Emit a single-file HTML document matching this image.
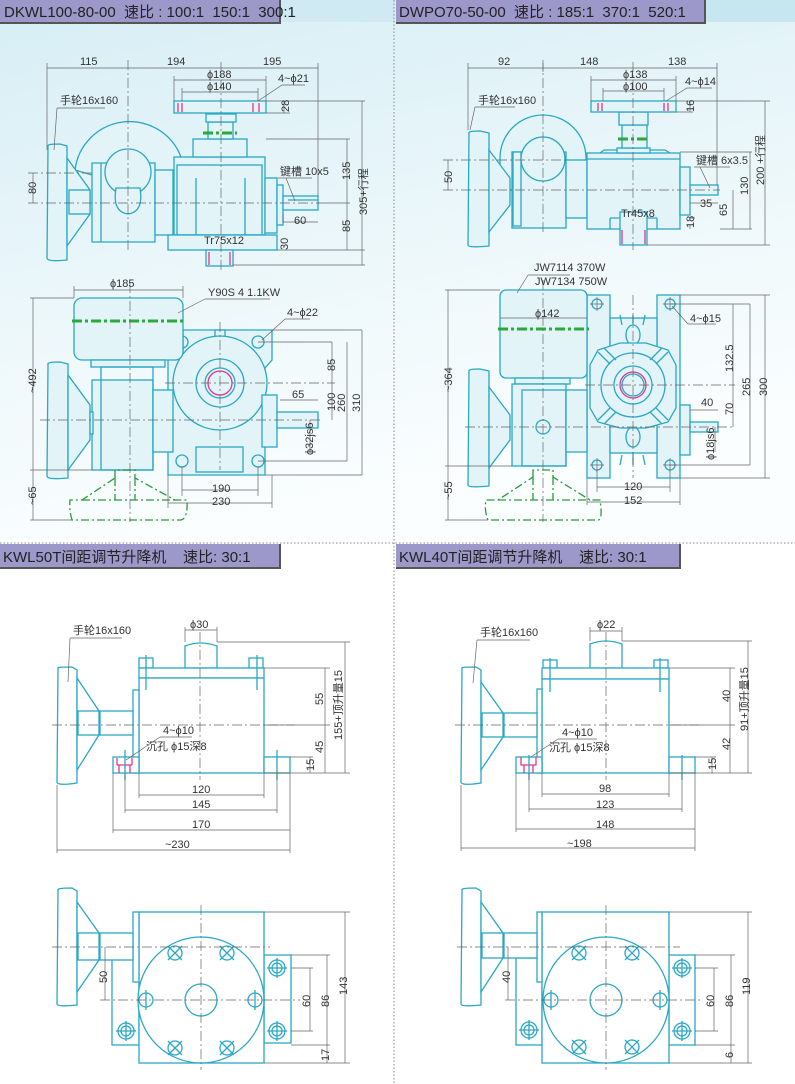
<!DOCTYPE html>
<html><head><meta charset="utf-8"><style>
html,body{margin:0;padding:0;background:#fff}
svg{display:block}
text{font-family:"Liberation Sans Narrow","Liberation Sans","Noto Sans CJK SC",sans-serif;fill:#333;font-size:11px}
.h{font-family:"Liberation Sans","Noto Sans CJK SC",sans-serif;font-size:15px;fill:#222;white-space:pre}
.c{fill:none;stroke:#2aa8c4;stroke-width:1.3}
.f{fill:#e3f4f8;stroke:#2aa8c4;stroke-width:1.3}
.w{fill:#fff;stroke:#2aa8c4;stroke-width:1.3}
.d{fill:none;stroke:#666;stroke-width:.7}
.cl{fill:none;stroke:#666;stroke-width:.7;stroke-dasharray:10 3 2 3}
.g{fill:none;stroke:#2a9a3a;stroke-width:1.3;stroke-dasharray:8 3 2 3}
.gt{fill:none;stroke:#2aaa3a;stroke-width:3;stroke-dasharray:10 3 3 3}
.p{fill:none;stroke:#e0358f;stroke-width:1.3}
</style></head><body>
<svg width="795" height="1084" viewBox="0 0 795 1084" xmlns="http://www.w3.org/2000/svg" xml:space="preserve">
<defs>
<linearGradient id="bg" x1="0" y1="0" x2="0.3" y2="1">
<stop offset="0" stop-color="#d6eef5"/><stop offset="0.6" stop-color="#eef8fb"/><stop offset="1" stop-color="#fbfeff"/>
</linearGradient>
</defs>
<rect x="0" y="0" width="795" height="540" fill="url(#bg)"/>
<rect x="280" y="0" width="115" height="22" fill="#cfeaf2"/>
<rect x="704" y="0" width="91" height="22" fill="#c6e6f0"/>
<line x1="394" y1="0" x2="394" y2="1084" stroke="#888" stroke-width="1" stroke-dasharray="1.5 2"/>
<line x1="0" y1="543" x2="795" y2="543" stroke="#888" stroke-width="1" stroke-dasharray="1.5 2"/>
<rect x="0" y="0" width="281" height="24" fill="#555"/>
<rect x="0" y="0" width="279" height="22" fill="#9d98ca"/>
<text x="4" y="17" class="h">DKWL100-80-00  速比 : 100:1  150:1  300:1</text>
<rect x="396" y="0" width="310" height="24" fill="#555"/>
<rect x="396" y="0" width="308" height="22" fill="#9d98ca"/>
<text x="399" y="17" class="h">DWPO70-50-00  速比 : 185:1  370:1  520:1</text>
<rect x="0" y="544" width="281" height="25" fill="#555"/>
<rect x="0" y="544" width="279" height="23" fill="#9d98ca"/>
<text x="3" y="562" class="h">KWL50T间距调节升降机    速比: 30:1</text>
<rect x="396" y="544" width="285" height="25" fill="#555"/>
<rect x="396" y="544" width="283" height="23" fill="#9d98ca"/>
<text x="399" y="562" class="h">KWL40T间距调节升降机    速比: 30:1</text>

<g>
<path class="f" d="M75,170 A55,55 0 0 1 181,157 L175,175 L92,175 Z" />
<path class="f" d="M92,163 H155 V242 H92 Z"/>
<path class="c" d="M101,163 V242"/>
<circle class="f" cx="128" cy="172" r="23"/>
<path class="f" d="M116,188 Q112,212 128,214 Q144,212 140,188 Z"/>
<rect class="f" x="155" y="170" width="18" height="65"/>
<rect class="f" x="174" y="157" width="91" height="78"/>
<rect class="c" x="177" y="165" width="85" height="70"/>
<path class="c" d="M196,178 V235 M245,178 V235"/>
<rect class="f" x="168" y="235" width="109" height="15"/>
<rect class="f" x="193" y="139" width="54" height="18"/>
<rect class="f" x="208" y="122" width="25" height="17"/>
<rect class="f" x="206" y="114" width="30" height="8"/>
<line class="gt" x1="203" y1="133" x2="237" y2="133"/>
<rect class="f" x="174" y="101" width="92" height="12"/>
<path class="p" d="M178,103 V112 M182,103 V112 M253,103 V112 M259,103 V112"/>
<rect class="f" x="206" y="250" width="27" height="16"/>
<path class="p" d="M209,252 V265 M230,252 V265"/>
<rect class="f" x="265" y="178" width="12" height="55"/>
<rect class="f" x="277" y="185" width="6" height="40"/>
<rect class="f" x="283" y="196" width="35" height="14"/>
<path class="c" d="M288,200 H318"/>
<path class="f" d="M48,146 Q47,144 60,144 L67,146 V260 Q47,262 47,258 Z"/>
<path class="f" d="M67,158 L90,190 V214 L67,246 Z"/>
<rect class="f" x="69" y="190" width="21" height="24"/>
<line class="cl" x1="28" y1="203" x2="320" y2="203"/>
<line class="cl" x1="28" y1="173" x2="92" y2="173"/>
<line class="cl" x1="128" y1="60" x2="128" y2="250"/>
<line class="cl" x1="221" y1="62" x2="221" y2="272"/>
<path class="d" d="M47,68 H318 M47,63 V150 M318,63 V196 M174,80 H266 M182,92 H258 M174,76 V101 M266,76 V101 M182,88 V101 M258,88 V101"/>
<text x="80" y="65">115</text><text x="167" y="65">194</text><text x="263" y="65">195</text>
<text x="207" y="78">ϕ188</text><text x="207" y="90">ϕ140</text>
<text x="278" y="82">4~ϕ21</text><path class="d" d="M258,101 L282,85 H305"/>
<path class="d" d="M266,101 H290 M266,113 H290 M284,101 V113 M266,139 H350 M318,203 H350 M277,250 H365 M266,101 H365 M347,139 V250 M362,101 V265 M233,265 H365 M283,213 V222 H318 M33,173 V203"/>
<text transform="translate(289,112) rotate(-90)">28</text>
<text transform="translate(350,180) rotate(-90)">135</text>
<text transform="translate(350,232) rotate(-90)">85</text>
<text transform="translate(367,215) rotate(-90)">305+行程</text>
<text transform="translate(288,250) rotate(-90)">30</text>
<text transform="translate(36,194) rotate(-90)">80</text>
<text x="60" y="104">手轮16x160</text><path class="d" d="M57,108 H105 M57,108 L54,150"/>
<text x="280" y="175">键槽 10x5</text><path class="d" d="M278,178 H312 M286,178 L295,201"/>
<text x="294" y="224">60</text>
<text x="204" y="244">Tr75x12</text>
</g>

<g>
<path class="f" d="M168,330 H272 V360 L265,368 V475 H168 Z"/>
<path class="f" d="M168,330 H183 V358 L175,360 L168,356 Z" stroke="#e0358f"/>
<rect class="f" x="215" y="330" width="10" height="8"/>
<circle class="f" cx="220" cy="383" r="47"/>
<circle class="c" cx="220" cy="383" r="24"/>
<circle class="p" cx="220" cy="383" r="12"/>
<circle class="c" cx="220" cy="383" r="15"/>
<circle class="c" cx="182" cy="342" r="6"/><circle class="c" cx="258" cy="342" r="6"/>
<circle class="c" cx="182" cy="461" r="6"/><circle class="c" cx="258" cy="461" r="6"/>
<rect class="f" x="196" y="447" width="47" height="25"/>
<rect class="f" x="262" y="395" width="15" height="52"/>
<rect class="f" x="277" y="412" width="41" height="16"/>
<rect class="f" x="74" y="298" width="109" height="62" rx="8"/>
<line class="gt" x1="72" y1="321" x2="185" y2="321"/>
<rect class="f" x="91" y="360" width="74" height="7"/>
<rect class="f" x="92" y="380" width="61" height="90"/>
<rect class="c" x="101" y="367" width="52" height="103"/>
<rect class="f" x="153" y="390" width="20" height="62"/>
<path class="f" d="M48,364 Q47,362 60,362 L68,364 V478 Q47,480 47,476 Z"/>
<path class="f" d="M68,375 L90,405 V440 L68,470 Z"/>
<rect class="f" x="90" y="412" width="3" height="22"/>
<path class="g" d="M115,478 V470 H135 V478 L175,500 L187,500 Q188,520 180,520 H72 Q69,510 70,500 L82,500 Z"/>
<path class="g" d="M115,478 V500 M135,478 V500 M82,500 H175"/>
<line class="cl" x1="130" y1="283" x2="130" y2="522"/>
<line class="cl" x1="220" y1="322" x2="220" y2="470"/>
<line class="cl" x1="165" y1="383" x2="335" y2="383"/>
<line class="cl" x1="40" y1="420" x2="320" y2="420"/>
<path class="d" d="M74,290 H183 M74,286 V298 M183,286 V298 M33,298 V520 M30,298 H74 M30,470 H92 M30,520 H72 M272,330 H362 M258,342 H332 M258,461 H347 M265,475 H362 M332,342 V420 M347,342 V461 M362,330 V475 M280,400 H318 M310,420 V452 M182,466 V496 M258,466 V496 M182,490 H258 M168,475 V508 M272,475 V508 M168,503 H272"/>
<text x="110" y="287">ϕ185</text>
<text x="208" y="296">Y90S  4  1.1KW</text><path class="d" d="M205,299 H270 M205,299 L178,313"/>
<text x="287" y="316">4~ϕ22</text><path class="d" d="M285,319 H310 M285,319 L262,340"/>
<text x="292" y="398">65</text>
<text transform="translate(335,371) rotate(-90)">85</text>
<text transform="translate(335,411) rotate(-90)">100</text>
<text transform="translate(345,412) rotate(-90)">260</text>
<text transform="translate(360,412) rotate(-90)">310</text>
<text transform="translate(313,455) rotate(-90)">ϕ32js6</text>
<text transform="translate(36,393) rotate(-90)">~492</text>
<text transform="translate(36,505) rotate(-90)">~65</text>
<text x="212" y="492">190</text><text x="212" y="505">230</text>
</g>

<g>
<path class="f" d="M500,158 A43,43 0 0 1 586,158 V190 H500 Z"/>
<rect class="f" x="512" y="152" width="54" height="76"/>
<rect class="f" x="513" y="152" width="8" height="74"/>
<circle class="f" cx="543" cy="159" r="22"/>
<rect class="f" x="566" y="160" width="21" height="58"/>
<rect class="f" x="587" y="153" width="93" height="76"/>
<path class="c" d="M600,153 L604,150 H665 L670,153 M587,159 H680 M610,218 V229 M657,218 V229 M610,218 H657"/>
<rect class="f" x="617" y="148" width="33" height="5"/>
<rect class="f" x="622" y="125" width="25" height="23"/>
<line class="gt" x1="618" y1="139" x2="650" y2="139"/>
<rect class="f" x="619" y="112" width="29" height="13"/>
<rect class="f" x="591" y="101" width="85" height="11"/>
<path class="p" d="M598,103 V111 M602,103 V111 M664,103 V111 M668,103 V111"/>
<rect class="f" x="620" y="212" width="27" height="33"/>
<path class="p" d="M622,230 V244 M645,230 V244"/>
<rect class="f" x="680" y="167" width="10" height="48"/>
<rect class="f" x="690" y="185" width="28" height="10"/>
<path class="f" d="M469,133 Q468,131 480,131 L489,133 V246 Q468,248 468,245 Z"/>
<path class="f" d="M489,150 L510,178 V205 L489,232 Z"/>
<line class="cl" x1="443" y1="190" x2="720" y2="190"/>
<line class="cl" x1="443" y1="160" x2="566" y2="160"/>
<line class="cl" x1="543" y1="60" x2="543" y2="232"/>
<line class="cl" x1="633" y1="62" x2="633" y2="250"/>
<path class="d" d="M468,68 H717 M468,63 V130 M717,63 V185 M543,63 V72 M591,80 H676 M603,91 H664 M591,76 V101 M676,76 V101 M603,88 V101 M664,88 V101 M676,101 H770 M676,112 H693 M690,101 V112 M680,152 H752 M720,229 H752 M733,190 V229 M750,152 V229 M765,101 V245 M647,245 H770 M690,218 H695 M690,225 V229 M690,203 H718 M448,160 V190"/>
<text x="498" y="65">92</text><text x="580" y="65">148</text><text x="668" y="65">138</text>
<text x="623" y="78">ϕ138</text><text x="623" y="90">ϕ100</text>
<text x="685" y="85">4~ϕ14</text><path class="d" d="M666,101 L687,88 H712"/>
<text transform="translate(694,112) rotate(-90)">16</text>
<text x="478" y="104">手轮16x160</text><path class="d" d="M475,107 H515 M475,107 L470,130"/>
<text x="696" y="164">键槽 6x3.5</text><path class="d" d="M694,167 H730 M700,167 L710,188"/>
<text x="700" y="207">35</text>
<text transform="translate(727,216) rotate(-90)">65</text>
<text transform="translate(748,195) rotate(-90)">130</text>
<text transform="translate(764,185) rotate(-90)">200 +行程</text>
<text transform="translate(694,228) rotate(-90)">18</text>
<text transform="translate(452,183) rotate(-90)">50</text>
<text x="621" y="217">Tr45x8</text>
</g>

<g>
<rect class="f" x="587" y="295" width="23" height="183"/>
<rect class="f" x="657" y="295" width="23" height="183"/>
<rect class="f" x="610" y="318" width="47" height="135"/>
<path class="c" d="M620,315 L622,325 M633,315 V330 M645,315 L643,325 M620,465 L622,455 M633,465 V452 M645,465 L643,455"/>
<ellipse class="f" cx="633" cy="335" rx="7" ry="10"/><ellipse class="f" cx="633" cy="437" rx="7" ry="10"/>
<path class="f" d="M598,350 L620,343 H646 L668,350 L676,365 V408 L668,422 L646,428 H620 L598,422 L590,408 V365 Z"/>
<circle class="c" cx="633" cy="385" r="32"/>
<circle class="c" cx="633" cy="385" r="19"/>
<circle class="p" cx="633" cy="385" r="13"/>
<circle class="c" cx="633" cy="385" r="11"/>
<path class="c" d="M598,352 L610,364 M604,348 L616,360 M668,352 L656,364 M662,348 L650,360 M598,420 L610,408 M604,424 L616,412 M668,420 L656,408 M662,424 L650,412"/>
<circle class="c" cx="597" cy="304" r="5"/><circle class="c" cx="670" cy="304" r="5"/>
<circle class="c" cx="597" cy="465" r="5"/><circle class="c" cx="670" cy="465" r="5"/>
<path class="d" d="M590,304 H604 M597,297 V311 M663,304 H677 M670,297 V311 M590,465 H604 M597,458 V472 M663,465 H677 M670,458 V472"/>
<rect class="f" x="680" y="405" width="10" height="50"/>
<rect class="f" x="690" y="422" width="28" height="10"/>
<rect class="f" x="500" y="290" width="87" height="88" rx="6"/>
<line class="gt" x1="498" y1="329" x2="589" y2="329"/>
<rect class="f" x="515" y="378" width="55" height="6"/>
<rect class="f" x="512" y="384" width="54" height="82"/>
<rect class="c" x="522" y="390" width="44" height="76"/>
<circle class="c" cx="543" cy="427" r="7"/>
<rect class="f" x="566" y="390" width="21" height="62"/>
<path class="f" d="M469,371 Q468,369 480,369 L489,371 V486 Q468,488 468,485 Z"/>
<path class="f" d="M489,387 L510,415 V440 L489,468 Z"/>
<path class="g" d="M533,477 V470 H553 V477 L590,500 L600,500 Q603,520 598,520 H488 Q484,510 486,500 L498,500 Z"/>
<path class="g" d="M533,477 V500 M553,477 V500 M498,500 H590"/>
<line class="cl" x1="543" y1="280" x2="543" y2="522"/>
<line class="cl" x1="633" y1="295" x2="633" y2="478"/>
<line class="cl" x1="585" y1="385" x2="735" y2="385"/>
<line class="cl" x1="465" y1="427" x2="735" y2="427"/>
<path class="d" d="M500,318 H587 M448,290 V520 M445,290 H500 M445,466 H512 M445,520 H488 M680,295 H770 M670,304 H750 M670,465 H750 M680,478 H770 M733,304 V427 M750,304 V465 M765,295 V478 M690,410 H718 M715,427 V452 M597,470 V492 M670,470 V492 M597,487 H670 M587,478 V505 M680,478 V505 M587,502 H680"/>
<text x="534" y="271">JW7114  370W</text><text x="535" y="285">JW7134  750W</text>
<path class="d" d="M528,275 H570 M528,275 L517,293"/>
<text x="535" y="317">ϕ142</text>
<text x="690" y="322">4~ϕ15</text><path class="d" d="M688,324 H716 M688,324 L672,306"/>
<text x="701" y="406">40</text>
<text transform="translate(733,372) rotate(-90)">132.5</text>
<text transform="translate(733,415) rotate(-90)">70</text>
<text transform="translate(750,396) rotate(-90)">265</text>
<text transform="translate(767,396) rotate(-90)">300</text>
<text transform="translate(714,460) rotate(-90)">ϕ18js6</text>
<text transform="translate(452,392) rotate(-90)">~364</text>
<text transform="translate(452,500) rotate(-90)">~55</text>
<text x="624" y="490">120</text><text x="624" y="504">152</text>
</g>

<g>
<path class="w" d="M185,668 V646 Q200,640 217,646 V668 Z"/>
<rect class="w" x="139" y="658" width="14" height="10"/><rect class="w" x="249" y="658" width="14" height="10"/>
<rect class="w" x="139" y="668" width="125" height="10"/>
<rect class="w" x="139" y="678" width="125" height="95"/>
<path class="c" d="M146,655 V690 M257,655 V690"/>
<rect class="w" x="133" y="690" width="6" height="83"/>
<rect class="w" x="113" y="757" width="26" height="16"/>
<rect class="w" x="264" y="757" width="26" height="16"/>
<path class="p" d="M117,765 H132 M119,765 V773 M130,765 V773 M117,758 V765 M132,758 V765"/>
<path class="c" d="M277,750 V780 M125,750 V780"/>
<rect class="w" x="100" y="711" width="33" height="24"/>
<path class="w" d="M58,668 Q57,667 72,667 L77,670 V783 Q57,786 57,782 Z"/>
<path class="w" d="M77,678 L99,711 V735 L77,770 Z"/>
<rect class="w" x="78" y="711" width="21" height="24"/>
<line class="cl" x1="52" y1="725" x2="295" y2="725"/>
<line class="cl" x1="200" y1="632" x2="200" y2="780"/>
<path class="d" d="M185,630 H217 M185,627 V642 M217,627 V642 M217,642 H350 M264,668 H330 M264,725 H330 M290,757 H313 M264,773 H350 M325,668 V773 M345,642 V773 M310,757 V773 M139,773 V798 M264,773 V798 M139,795 H264 M125,773 V813 M277,773 V813 M125,810 H277 M113,773 V833 M290,773 V833 M113,830 H290 M57,785 V853 M290,833 V853 M57,850 H290"/>
<text x="190" y="628">ϕ30</text>
<text x="73" y="634">手轮16x160</text><path class="d" d="M70,638 H122 M70,638 L68,682"/>
<text x="163" y="734">4~ϕ10</text><text x="146" y="750">沉孔 ϕ15深8</text>
<path class="d" d="M160,737 H192 M160,737 L126,760"/>
<text transform="translate(323,705) rotate(-90)">55</text>
<text transform="translate(323,753) rotate(-90)">45</text>
<text transform="translate(314,771) rotate(-90)">15</text>
<text transform="translate(342,740) rotate(-90)">155+顶升量15</text>
<text x="192" y="793">120</text><text x="192" y="808">145</text><text x="192" y="828">170</text><text x="165" y="848">~230</text>
</g>

<g>
<rect class="w" x="112" y="958" width="27" height="87"/>
<rect class="w" x="264" y="955" width="27" height="88"/>
<rect class="w" x="139" y="912" width="125" height="151"/>
<rect class="w" x="133" y="912" width="6" height="70"/>
<circle class="w" cx="201" cy="1000" r="63"/>
<circle class="c" cx="201" cy="1000" r="16"/>
<g class="c">
<circle cx="175" cy="953" r="7"/><circle cx="227" cy="953" r="7"/>
<circle cx="175" cy="1048" r="7"/><circle cx="227" cy="1048" r="7"/>
<circle cx="146" cy="1000" r="7"/><circle cx="255" cy="1000" r="7"/>
<path d="M168,946 L182,960 M182,946 L168,960 M220,946 L234,960 M234,946 L220,960 M168,1041 L182,1055 M182,1041 L168,1055 M220,1041 L234,1055 M234,1041 L220,1055 M146,990 V1010 M255,990 V1010"/>
<circle cx="126" cy="1031" r="8"/><circle cx="126" cy="1031" r="5"/>
<circle cx="277" cy="968" r="8"/><circle cx="277" cy="968" r="5"/>
<circle cx="277" cy="1031" r="8"/><circle cx="277" cy="1031" r="5"/>
<path d="M116,1031 H136 M126,1021 V1041 M267,968 H287 M277,958 V978 M267,1031 H287 M277,1021 V1041"/>
</g>
<rect class="w" x="100" y="933" width="33" height="27"/>
<path class="w" d="M58,890 Q57,888 72,888 L77,891 V1005 Q57,1007 57,1004 Z"/>
<path class="w" d="M77,902 L99,933 V960 L77,992 Z"/>
<rect class="w" x="78" y="933" width="21" height="27"/>
<line class="cl" x1="52" y1="947" x2="270" y2="947"/>
<line class="cl" x1="100" y1="1000" x2="300" y2="1000"/>
<line class="cl" x1="201" y1="905" x2="201" y2="1070"/>
<path class="d" d="M105,947 V1000 M264,912 H350 M291,955 H330 M291,968 H313 M291,1031 H313 M264,1063 H350 M291,1045 H330 M310,968 V1031 M327,955 V1063 M345,912 V1063"/>
<text transform="translate(107,983) rotate(-90)">50</text>
<text transform="translate(310,1007) rotate(-90)">60</text>
<text transform="translate(329,1007) rotate(-90)">86</text>
<text transform="translate(347,995) rotate(-90)">143</text>
<text transform="translate(329,1061) rotate(-90)">17</text>
</g>

<g>
<path class="w" d="M590,668 V644 Q606,638 622,644 V668 Z"/>
<rect class="w" x="543" y="660" width="14" height="8"/><rect class="w" x="654" y="660" width="14" height="8"/>
<rect class="w" x="542" y="668" width="127" height="11"/>
<rect class="w" x="542" y="679" width="127" height="94"/>
<path class="c" d="M550,658 V692 M660,658 V692"/>
<rect class="w" x="537" y="689" width="5" height="84"/>
<rect class="w" x="516" y="757" width="26" height="16"/>
<rect class="w" x="669" y="757" width="26" height="16"/>
<path class="p" d="M521,757 V765 H536 V757 M524,765 V773 M533,765 V773"/>
<path class="c" d="M682,755 V780 M529,755 V780"/>
<rect class="w" x="504" y="713" width="33" height="24"/>
<path class="w" d="M462,668 Q461,667 476,667 L481,670 V783 Q461,786 461,782 Z"/>
<path class="w" d="M481,682 L503,713 V737 L481,770 Z"/>
<rect class="w" x="482" y="713" width="21" height="24"/>
<line class="cl" x1="455" y1="725" x2="700" y2="725"/>
<line class="cl" x1="606" y1="632" x2="606" y2="780"/>
<path class="d" d="M590,631 H622 M590,627 V641 M622,627 V641 M622,641 H752 M669,668 H735 M669,725 H735 M695,757 H716 M669,773 H752 M730,668 V773 M748,641 V773 M712,757 V773 M542,773 V797 M669,773 V797 M542,794 H669 M529,773 V812 M682,773 V812 M529,809 H682 M516,773 V832 M695,773 V832 M516,829 H695 M461,785 V851 M695,832 V851 M461,848 H695"/>
<text x="597" y="628">ϕ22</text>
<text x="480" y="636">手轮16x160</text><path class="d" d="M477,640 H530 M477,640 L473,683"/>
<text x="562" y="736">4~ϕ10</text><text x="549" y="751">沉孔 ϕ15深8</text>
<path class="d" d="M558,739 H597 M558,739 L531,757"/>
<text transform="translate(730,702) rotate(-90)">40</text>
<text transform="translate(730,750) rotate(-90)">42</text>
<text transform="translate(716,770) rotate(-90)">15</text>
<text transform="translate(748,731) rotate(-90)">91+顶升量15</text>
<text x="599" y="792">98</text><text x="596" y="808">123</text><text x="596" y="828">148</text><text x="567" y="847">~198</text>
</g>

<g>
<rect class="w" x="516" y="958" width="26" height="87"/>
<rect class="w" x="669" y="955" width="26" height="90"/>
<rect class="w" x="542" y="912" width="127" height="151"/>
<rect class="w" x="537" y="912" width="5" height="70"/>
<circle class="w" cx="606" cy="1000" r="63"/>
<circle class="c" cx="606" cy="1000" r="16"/>
<g class="c">
<circle cx="579" cy="953" r="7"/><circle cx="632" cy="953" r="7"/>
<circle cx="579" cy="1047" r="7"/><circle cx="632" cy="1047" r="7"/>
<circle cx="551" cy="1000" r="7"/><circle cx="660" cy="1000" r="7"/>
<path d="M572,946 L586,960 M586,946 L572,960 M625,946 L639,960 M639,946 L625,960 M572,1040 L586,1054 M586,1040 L572,1054 M625,1040 L639,1054 M639,1040 L625,1054 M551,990 V1010 M660,990 V1010"/>
<circle cx="529" cy="1030" r="8"/><circle cx="529" cy="1030" r="5"/>
<circle cx="682" cy="968" r="8"/><circle cx="682" cy="968" r="5"/>
<circle cx="682" cy="1031" r="8"/><circle cx="682" cy="1031" r="5"/>
<path d="M519,1030 H539 M529,1020 V1040 M672,968 H692 M682,958 V978 M672,1031 H692 M682,1021 V1041"/>
</g>
<rect class="w" x="504" y="933" width="33" height="25"/>
<path class="w" d="M462,890 Q461,888 476,888 L481,891 V1005 Q461,1007 461,1004 Z"/>
<path class="w" d="M481,902 L503,933 V958 L481,992 Z"/>
<rect class="w" x="482" y="933" width="21" height="25"/>
<line class="cl" x1="457" y1="947" x2="680" y2="947"/>
<line class="cl" x1="505" y1="1000" x2="700" y2="1000"/>
<line class="cl" x1="606" y1="905" x2="606" y2="1070"/>
<path class="d" d="M508,947 V1000 M669,912 H752 M695,955 H735 M695,968 H718 M695,1031 H718 M669,1063 H752 M695,1045 H735 M714,968 V1031 M731,955 V1063 M748,912 V1063"/>
<text transform="translate(510,983) rotate(-90)">40</text>
<text transform="translate(714,1007) rotate(-90)">60</text>
<text transform="translate(733,1007) rotate(-90)">86</text>
<text transform="translate(750,995) rotate(-90)">119</text>
<text transform="translate(733,1058) rotate(-90)">6</text>
</g>
</svg>
</body></html>
